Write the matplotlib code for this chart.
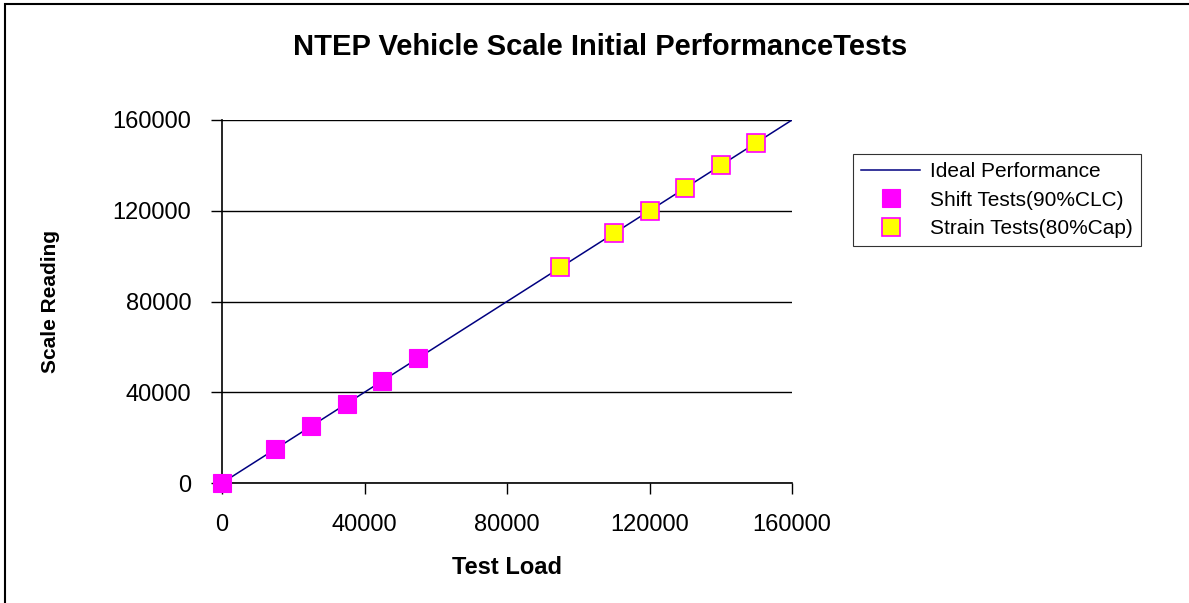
import matplotlib
matplotlib.use("Agg")
import matplotlib.pyplot as plt
import matplotlib.patches as patches

plt.rcParams['font.family'] = ['Liberation Sans', 'DejaVu Sans']

# ideal line: scale reading equals test load
ideal_load = [0, 10000, 20000, 30000, 40000, 50000, 60000, 70000, 80000,
              90000, 100000, 110000, 120000, 130000, 140000, 150000, 160000]
ideal_reading = [0, 10000, 20000, 30000, 40000, 50000, 60000, 70000, 80000,
                 90000, 100000, 110000, 120000, 130000, 140000, 150000, 160000]

shift_load = [0, 15000, 25000, 35000, 45000, 55000]
shift_reading = [0, 15000, 25000, 35000, 45000, 55000]

strain_load = [95000, 110000, 120000, 130000, 140000, 150000]
strain_reading = [95000, 110000, 120000, 130000, 140000, 150000]

ticks = [0, 40000, 80000, 120000, 160000]

W, H = 1189, 603
fig = plt.figure(figsize=(W / 100, H / 100), dpi=100)
ax = fig.add_axes([222 / W, 1 - 483 / H, (792 - 222) / W, (483 - 120) / H])

ax.plot(ideal_load, ideal_reading, color='#000080', lw=1.1, zorder=2,
        label='Ideal Performance')
ax.plot(shift_load, shift_reading, ls='none', marker='s', ms=12.5,
        mfc='#FF00FF', mec='#FF00FF', mew=0.8, zorder=3, clip_on=False,
        label='Shift Tests(90%CLC)')
ax.plot(strain_load, strain_reading, ls='none', marker='s', ms=12.5,
        mfc='#FFFF00', mec='#FF00FF', mew=1.2, zorder=3, clip_on=False,
        label='Strain Tests(80%Cap)')

ax.set_xlim(0, 160000)
ax.set_ylim(0, 160000)
ax.set_xticks(ticks)
ax.set_yticks(ticks)
ax.set_xticklabels([str(t) for t in ticks])
ax.set_yticklabels([str(t) for t in ticks])
ax.tick_params(axis='both', direction='out', length=8, width=1,
               labelsize=17, colors='black')
ax.tick_params(axis='x', pad=14)
ax.tick_params(axis='y', pad=14)

ax.yaxis.grid(True, color='black', lw=1)
ax.set_axisbelow(True)
for s in ['top', 'right']:
    ax.spines[s].set_visible(False)
for s in ['left', 'bottom']:
    ax.spines[s].set_linewidth(1.2)

ax.set_xlabel('Test Load', fontsize=17, fontweight='bold', labelpad=15)
ax.set_ylabel('Scale Reading', fontsize=15, fontweight='bold', labelpad=38)

fig.text(600 / W, 1 - 47 / H, 'NTEP Vehicle Scale Initial PerformanceTests',
         ha='center', va='center', fontsize=21, fontweight='bold')

leg = ax.legend(loc='upper left', bbox_to_anchor=(853 / W, 1 - 154 / H),
                bbox_transform=fig.transFigure, borderaxespad=0,
                fontsize=15, frameon=True, fancybox=False,
                edgecolor='black', handlelength=2.8, handletextpad=0.5,
                borderpad=0.4, labelspacing=0.45)
leg.get_frame().set_linewidth(0.8)

# outer chart border (left and top visible)
fig.add_artist(patches.Rectangle((5 / W, -0.05), 1.2, 1 - 4 / H + 0.05,
                                 fill=False, lw=1.5, edgecolor='black',
                                 transform=fig.transFigure))

fig.savefig('out.png', dpi=100)
